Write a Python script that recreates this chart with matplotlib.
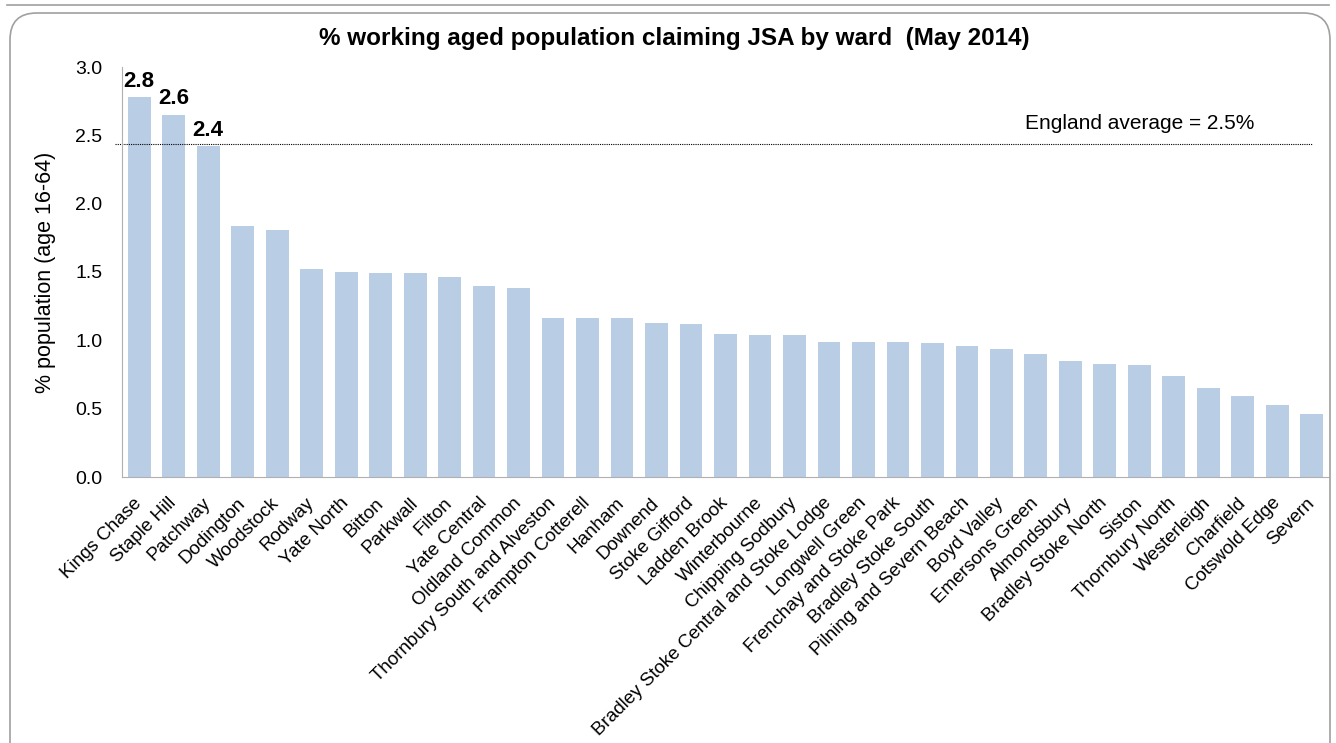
import matplotlib.pyplot as plt
from matplotlib.patches import FancyBboxPatch

plt.rcParams['font.family'] = ['Liberation Sans', 'DejaVu Sans']

wards = ["Kings Chase", "Staple Hill", "Patchway", "Dodington", "Woodstock", "Rodway",
         "Yate North", "Bitton", "Parkwall", "Filton", "Yate Central", "Oldland Common",
         "Thornbury South and Alveston", "Frampton Cotterell", "Hanham", "Downend",
         "Stoke Gifford", "Ladden Brook", "Winterbourne", "Chipping Sodbury",
         "Bradley Stoke Central and Stoke Lodge", "Longwell Green", "Frenchay and Stoke Park",
         "Bradley Stoke South", "Pilning and Severn Beach", "Boyd Valley", "Emersons Green",
         "Almondsbury", "Bradley Stoke North", "Siston", "Thornbury North", "Westerleigh",
         "Charfield", "Cotswold Edge", "Severn"]
pct = [2.78, 2.65, 2.42, 1.84, 1.81, 1.52, 1.50, 1.49, 1.49, 1.46, 1.40, 1.38,
       1.16, 1.16, 1.16, 1.13, 1.12, 1.05, 1.04, 1.04, 0.99, 0.99, 0.99, 0.98,
       0.96, 0.94, 0.90, 0.85, 0.83, 0.82, 0.74, 0.65, 0.59, 0.53, 0.46]
top_labels = ["2.8", "2.6", "2.4"]
england_avg = 2.44

fig = plt.figure(figsize=(13.36, 7.43), dpi=100)

# outer frame (Excel chart border), runs off the bottom of the image
frame = FancyBboxPatch((10 / 1336, -0.1), 1320 / 1336, 1.1 - 13 / 743,
                       boxstyle="round,pad=0,rounding_size=0.02",
                       transform=fig.transFigure, fill=False, ec="#a0a0a0", lw=1.2,
                       mutation_aspect=1336 / 743, clip_on=False)
fig.patches.append(frame)
fig.add_artist(plt.Line2D([0.005, 0.995], [1 - 5 / 743, 1 - 5 / 743],
                          transform=fig.transFigure, color="#a0a0a0", lw=1.2))

ax = fig.add_axes([122 / 1336, 1 - 477 / 743, 1207 / 1336, 410 / 743])
x = range(len(wards))
ax.bar(x, pct, width=0.66, color="#b9cde5")

for i, lab in enumerate(top_labels):
    ax.text(i, pct[i] + 0.04, lab, ha="center", va="bottom", fontsize=16, fontweight="bold")

ax.plot([-0.7, 34.0], [england_avg, england_avg], color="black", lw=0.8,
        linestyle=(0, (1, 1)), clip_on=False)
ax.text(29.0, england_avg + 0.08, "England average = 2.5%", ha="center", va="bottom", fontsize=15)

ax.set_xlim(-0.5, len(wards) - 0.5)
ax.set_ylim(0, 3.0)
ax.set_yticks([0, 0.5, 1.0, 1.5, 2.0, 2.5, 3.0])
ax.set_yticklabels(["0.0", "0.5", "1.0", "1.5", "2.0", "2.5", "3.0"], fontsize=14)
ax.set_xticks(list(x))
ax.set_xticklabels(wards, rotation=45, ha="right", va="center", rotation_mode="anchor", fontsize=13.5)
ax.tick_params(axis="both", length=0)
ax.tick_params(axis="y", pad=14)
ax.tick_params(axis="x", pad=17)
for side in ["top", "right"]:
    ax.spines[side].set_visible(False)
for side in ["left", "bottom"]:
    ax.spines[side].set_color("#b0b0b0")
ax.set_ylabel("% population (age 16-64)", fontsize=15.5, labelpad=14)

fig.text(0.505, 1 - 38 / 743, "% working aged population claiming JSA by ward  (May 2014)",
         ha="center", va="center", fontsize=17.5, fontweight="bold")

fig.savefig("out.png", dpi=100)
